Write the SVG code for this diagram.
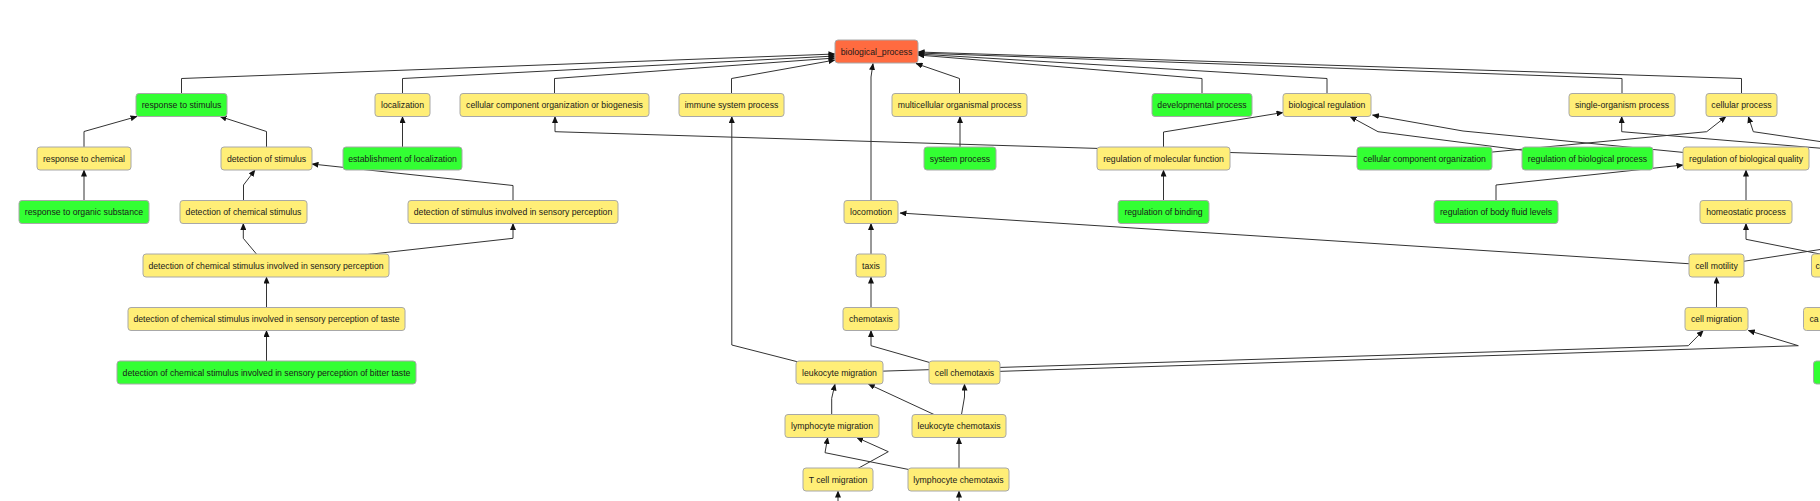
<svg xmlns="http://www.w3.org/2000/svg" width="1820" height="501" viewBox="0 0 1820 501">
<style>
.n rect{stroke:#a8a8a8;stroke-width:1}
.y rect{fill:#ffee77}
.g rect{fill:#33ff33}
.o rect{fill:#ff6b40}
.n text{font-family:"Liberation Sans",Arial,sans-serif;font-size:8.7px;fill:#1a1a1a;text-anchor:middle}
#edges path{fill:none;stroke:#333;stroke-width:1}
#edges path.a{marker-end:url(#ah)}
</style>
<defs>
<marker id="ah" markerUnits="userSpaceOnUse" markerWidth="7" markerHeight="6" refX="6.5" refY="3" orient="auto">
<path d="M0,0 L7,3 L0,6 z" fill="#111"/>
</marker>
</defs>
<rect width="1820" height="501" fill="#fff"/>
<g id="edges">
<path class="a" d="M181.5,93.5 V78.5 L835,54"/>
<path class="a" d="M402.5,93.5 V78.5 L835,56"/>
<path class="a" d="M554.5,93.5 V78.5 L835,58"/>
<path class="a" d="M731.5,93.5 V78.5 L835,60"/>
<path class="a" d="M871,200.5 V77 L873,63.5"/>
<path class="a" d="M959.5,93.5 V78.5 L916,63.5"/>
<path class="a" d="M1202,93.5 V78.5 L918,55"/>
<path class="a" d="M1327,93.5 V78.5 L918,54"/>
<path class="a" d="M1622,93.5 V78.5 L918,53"/>
<path class="a" d="M1741.5,93.5 V78.5 L918,52"/>
<path class="a" d="M84,147 V131.5 L137,116.5"/>
<path class="a" d="M266.5,147 V131.5 L220,116.5"/>
<path class="a" d="M402.5,147 V116.5"/>
<path class="a" d="M960,147 V116.5"/>
<path class="a" d="M1163.5,147 V132 L1283,112.5"/>
<path class="a" d="M1424,158.5 L555,131.7 V116.5"/>
<path class="a" d="M1424,158.5 L1706.7,131.7 L1726,116.5"/>
<path class="a" d="M1587,158.5 L1378,131.7 L1350,116.5"/>
<path class="a" d="M1746,158.5 L1463,131 L1372.5,115"/>
<path class="a" d="M1830,149 L1621.7,131.7 V116.5"/>
<path class="a" d="M1830,143 L1753.3,131.7 L1748.3,116.5"/>
<path class="a" d="M84,200.5 V170"/>
<path class="a" d="M243.5,200.5 V185 L255,170"/>
<path class="a" d="M513,200.5 V185.5 L312,164"/>
<path class="a" d="M1163.5,200.5 V170"/>
<path class="a" d="M1496,200.5 V185 L1683,165"/>
<path class="a" d="M1746,200.5 V170"/>
<path class="a" d="M266.3,265.8 L243.3,238.3 V223.5"/>
<path class="a" d="M266.3,265.8 L513,238.3 V223.5"/>
<path class="a" d="M871,254 V223.5"/>
<path class="a" d="M1716.5,265.5 L900,213"/>
<path class="a" d="M1830,256 L1746,239.3 V223.5"/>
<path d="M1716.5,265.5 L1830,248"/>
<path class="a" d="M266.5,307.5 V277"/>
<path class="a" d="M871,307.5 V277"/>
<path class="a" d="M1716.5,307.5 V277"/>
<path class="a" d="M266.5,361 V330.5"/>
<path class="a" d="M839.5,372.5 L731.8,345 V116.5"/>
<path class="a" d="M839.5,372.5 L1688.3,345.7 L1703.3,330.5"/>
<path class="a" d="M964.5,372.5 L871,345.7 V330.5"/>
<path class="a" d="M964.5,372.5 L1798.3,345.7 L1748.3,330.5"/>
<path class="a" d="M958.8,426 L868.3,384"/>
<path class="a" d="M961.5,414.5 L964.5,397 V384"/>
<path class="a" d="M831.7,414.5 V398.3 L835,384"/>
<path class="a" d="M959,468 V437.5"/>
<path class="a" d="M958.5,479.5 L825,452.7 L827.7,437.5"/>
<path class="a" d="M837.8,479.5 L888.3,451.7 L856.7,437.5"/>
<path class="a" d="M838,501 V491"/>
<path class="a" d="M959,501 V491"/>
</g>
<g id="biological_process" class="n o"><rect x="835" y="40" width="83" height="23" rx="3"/><text x="876.5" y="54.6">biological_process</text></g>
<g id="response_to_stimulus" class="n g"><rect x="136" y="93.5" width="91" height="23" rx="3"/><text x="181.5" y="108.1">response to stimulus</text></g>
<g id="localization" class="n y"><rect x="375" y="93.5" width="55" height="23" rx="3"/><text x="402.5" y="108.1">localization</text></g>
<g id="ccob" class="n y"><rect x="460" y="93.5" width="189" height="23" rx="3"/><text x="554.5" y="108.1">cellular component organization or biogenesis</text></g>
<g id="immune_system_process" class="n y"><rect x="679" y="93.5" width="105" height="23" rx="3"/><text x="731.5" y="108.1">immune system process</text></g>
<g id="multicellular_organismal_process" class="n y"><rect x="892" y="93.5" width="135" height="23" rx="3"/><text x="959.5" y="108.1">multicellular organismal process</text></g>
<g id="developmental_process" class="n g"><rect x="1152" y="93.5" width="100" height="23" rx="3"/><text x="1202" y="108.1">developmental process</text></g>
<g id="biological_regulation" class="n y"><rect x="1283" y="93.5" width="88" height="23" rx="3"/><text x="1327" y="108.1">biological regulation</text></g>
<g id="single_organism_process" class="n y"><rect x="1569" y="93.5" width="106" height="23" rx="3"/><text x="1622" y="108.1">single-organism process</text></g>
<g id="cellular_process" class="n y"><rect x="1706" y="93.5" width="71" height="23" rx="3"/><text x="1741.5" y="108.1">cellular process</text></g>
<g id="response_to_chemical" class="n y"><rect x="37" y="147" width="94" height="23" rx="3"/><text x="84" y="161.6">response to chemical</text></g>
<g id="detection_of_stimulus" class="n y"><rect x="221" y="147" width="91" height="23" rx="3"/><text x="266.5" y="161.6">detection of stimulus</text></g>
<g id="establishment_of_localization" class="n g"><rect x="343" y="147" width="119" height="23" rx="3"/><text x="402.5" y="161.6">establishment of localization</text></g>
<g id="system_process" class="n g"><rect x="924" y="147" width="72" height="23" rx="3"/><text x="960" y="161.6">system process</text></g>
<g id="regulation_of_molecular_function" class="n y"><rect x="1097" y="147" width="133" height="23" rx="3"/><text x="1163.5" y="161.6">regulation of molecular function</text></g>
<g id="cellular_component_organization" class="n g"><rect x="1357" y="147" width="135" height="23" rx="3"/><text x="1424.5" y="161.6">cellular component organization</text></g>
<g id="regulation_of_biological_process" class="n g"><rect x="1522" y="147" width="131" height="23" rx="3"/><text x="1587.5" y="161.6">regulation of biological process</text></g>
<g id="regulation_of_biological_quality" class="n y"><rect x="1683" y="147" width="126" height="23" rx="3"/><text x="1746" y="161.6">regulation of biological quality</text></g>
<g id="response_to_organic_substance" class="n g"><rect x="19" y="200.5" width="130" height="23" rx="3"/><text x="84" y="215.1">response to organic substance</text></g>
<g id="detection_of_chemical_stimulus" class="n y"><rect x="180" y="200.5" width="127" height="23" rx="3"/><text x="243.5" y="215.1">detection of chemical stimulus</text></g>
<g id="dsisp" class="n y"><rect x="408" y="200.5" width="210" height="23" rx="3"/><text x="513" y="215.1">detection of stimulus involved in sensory perception</text></g>
<g id="locomotion" class="n y"><rect x="844" y="200.5" width="54" height="23" rx="3"/><text x="871" y="215.1">locomotion</text></g>
<g id="regulation_of_binding" class="n g"><rect x="1118" y="200.5" width="91" height="23" rx="3"/><text x="1163.5" y="215.1">regulation of binding</text></g>
<g id="regulation_of_body_fluid_levels" class="n g"><rect x="1434" y="200.5" width="124" height="23" rx="3"/><text x="1496" y="215.1">regulation of body fluid levels</text></g>
<g id="homeostatic_process" class="n y"><rect x="1700" y="200.5" width="92" height="23" rx="3"/><text x="1746" y="215.1">homeostatic process</text></g>
<g id="dcsisp" class="n y"><rect x="143" y="254" width="246" height="23" rx="3"/><text x="266" y="268.6">detection of chemical stimulus involved in sensory perception</text></g>
<g id="taxis" class="n y"><rect x="856" y="254" width="30" height="23" rx="3"/><text x="871" y="268.6">taxis</text></g>
<g id="cell_motility" class="n y"><rect x="1689" y="254" width="55" height="23" rx="3"/><text x="1716.5" y="268.6">cell motility</text></g>
<g id="cut_node_r4" class="n y"><rect x="1811.5" y="254" width="40" height="23" rx="3"/><text x="1815.5" y="268.6" style="text-anchor:start">c</text></g>
<g id="taste" class="n y"><rect x="128" y="307.5" width="277" height="23" rx="3"/><text x="266.5" y="322.1">detection of chemical stimulus involved in sensory perception of taste</text></g>
<g id="chemotaxis" class="n y"><rect x="843" y="307.5" width="56" height="23" rx="3"/><text x="871" y="322.1">chemotaxis</text></g>
<g id="cell_migration" class="n y"><rect x="1685" y="307.5" width="63" height="23" rx="3"/><text x="1716.5" y="322.1">cell migration</text></g>
<g id="cut_node_r5" class="n y"><rect x="1803.5" y="307.5" width="40" height="23" rx="3"/><text x="1809.5" y="322.1" style="text-anchor:start">ca</text></g>
<g id="bitter" class="n g"><rect x="117" y="361" width="299" height="23" rx="3"/><text x="266.5" y="375.6">detection of chemical stimulus involved in sensory perception of bitter taste</text></g>
<g id="leukocyte_migration" class="n y"><rect x="796" y="361" width="87" height="23" rx="3"/><text x="839.5" y="375.6">leukocyte migration</text></g>
<g id="cell_chemotaxis" class="n y"><rect x="929" y="361" width="71" height="23" rx="3"/><text x="964.5" y="375.6">cell chemotaxis</text></g>
<g id="cut_node_r6" class="n g"><rect x="1813.5" y="361" width="40" height="23" rx="3"/></g>
<g id="lymphocyte_migration" class="n y"><rect x="785" y="414.5" width="94" height="23" rx="3"/><text x="832" y="429.1">lymphocyte migration</text></g>
<g id="leukocyte_chemotaxis" class="n y"><rect x="912" y="414.5" width="94" height="23" rx="3"/><text x="959" y="429.1">leukocyte chemotaxis</text></g>
<g id="t_cell_migration" class="n y"><rect x="803" y="468" width="70" height="23" rx="3"/><text x="838" y="482.6">T cell migration</text></g>
<g id="lymphocyte_chemotaxis" class="n y"><rect x="908" y="468" width="101" height="23" rx="3"/><text x="958.5" y="482.6">lymphocyte chemotaxis</text></g>
</svg>
